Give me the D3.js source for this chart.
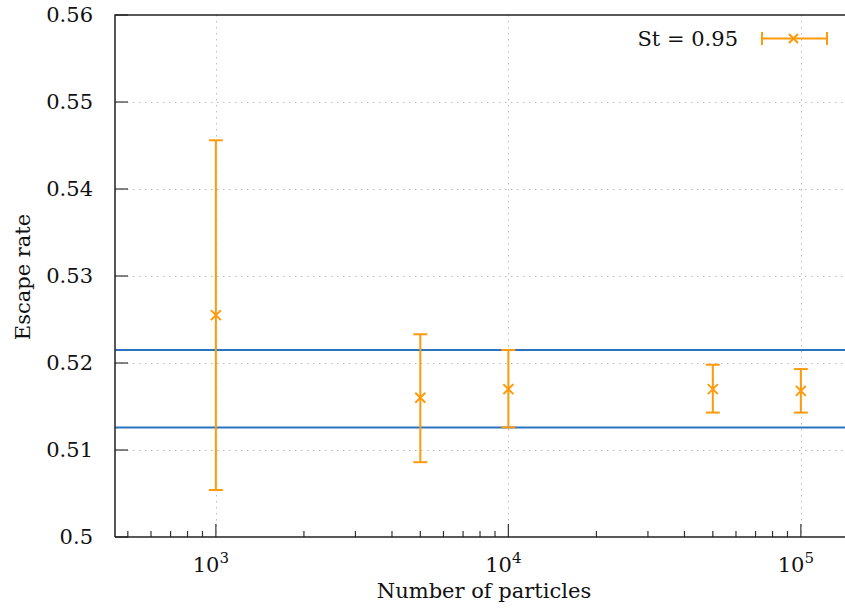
<!DOCTYPE html>
<html>
<head>
<meta charset="utf-8">
<script src="https://cdn.jsdelivr.net/npm/d3@7"></script>
<style>
  body { margin: 0; background: #fff; }
  svg { display: block; }
  text { font-family: "DejaVu Serif", "Liberation Serif", serif; fill: #111; }
</style>
</head>
<body>
<svg id="chart" width="845" height="612"></svg>
<script>
// data
var particles = [1000, 5000, 10000, 50000, 100000];
var escapeRate = [0.5255, 0.5160, 0.5170, 0.5170, 0.5168];
var errLow = [0.5054, 0.5086, 0.5126, 0.5143, 0.5143];
var errHigh = [0.5456, 0.5233, 0.5215, 0.5198, 0.5193];
var bandLines = [0.5215, 0.5126];
var yTicks = [0.5, 0.51, 0.52, 0.53, 0.54, 0.55, 0.56];
var xMajor = [1e3, 1e4, 1e5];
var legendLabel = "St = 0.95";

var orange = "#ff9a0c", blue = "#2a73bf";

var svg = d3.select("#chart");
var padL = 115, padT = 15, padB = 537;

// log x scale, right part runs past the window
var xDom = [452, 145000];
var decade = 292.5;
var x = d3.scaleLog()
  .domain(xDom)
  .range([padL, padL + decade * Math.log10(xDom[1] / xDom[0])]);
var y = d3.scaleLinear().domain([0.5, 0.56]).range([padB, padT]);
var padR = x.range()[1];

// grid
var grid = svg.append("g").attr("class", "grid")
  .attr("stroke", "#bdbdbd").attr("stroke-width", 1)
  .attr("stroke-dasharray", "1.5,4.5");
grid.selectAll("line.gy").data(yTicks.slice(1, -1)).enter().append("line")
  .attr("x1", padL).attr("x2", padR)
  .attr("y1", function(d){ return Math.round(y(d)) + 0.5; })
  .attr("y2", function(d){ return Math.round(y(d)) + 0.5; });
grid.selectAll("line.gx").data(xMajor).enter().append("line")
  .attr("x1", function(d){ return Math.round(x(d)) + 0.5; })
  .attr("x2", function(d){ return Math.round(x(d)) + 0.5; })
  .attr("y1", padT).attr("y2", padB);

// blue reference lines
svg.append("g").selectAll("line").data(bandLines).enter().append("line")
  .attr("x1", padL).attr("x2", padR)
  .attr("y1", function(d){ return y(d); })
  .attr("y2", function(d){ return y(d); })
  .attr("stroke", blue).attr("stroke-width", 2);

// minor x ticks 2..9 per decade
var minor = x.ticks().filter(function(d){
  var m = d / Math.pow(10, Math.floor(Math.log10(d) + 1e-9));
  return Math.abs(m - 1) > 1e-6 && d >= xDom[0] && d <= xDom[1];
});
svg.append("g").selectAll("line").data(minor).enter().append("line")
  .attr("x1", function(d){ return x(d); }).attr("x2", function(d){ return x(d); })
  .attr("y1", padB).attr("y2", padB - 6)
  .attr("stroke", "#333").attr("stroke-width", 1.2);
svg.append("g").selectAll("line").data(xMajor).enter().append("line")
  .attr("x1", function(d){ return x(d); }).attr("x2", function(d){ return x(d); })
  .attr("y1", padB).attr("y2", padB - 13)
  .attr("stroke", "#333").attr("stroke-width", 1.2);

// x tick labels 10^n
var xl = svg.append("g").selectAll("text").data(xMajor).enter().append("text")
  .attr("x", function(d){ return x(d) - 5; })
  .attr("y", 572)
  .attr("text-anchor", "middle")
  .style("font-size", "21px");
xl.append("tspan").text("10");
xl.append("tspan").attr("dy", -9).style("font-size", "15px")
  .text(function(d){ return Math.round(Math.log10(d)); });

// y axis
var yAxis = d3.axisLeft(y).tickValues(yTicks).tickSize(0).tickPadding(22)
  .tickFormat(function(d){ return d3.format("")(+d.toFixed(2)); });
var gy = svg.append("g").attr("transform", "translate(" + padL + ",0)").call(yAxis);
gy.select(".domain").remove();
gy.attr("font-family", null);
gy.selectAll("text").style("font-size", "21px");
svg.append("g").selectAll("line").data(yTicks).enter().append("line")
  .attr("x1", padL).attr("x2", padL + 13)
  .attr("y1", function(d){ return y(d); }).attr("y2", function(d){ return y(d); })
  .attr("stroke", "#333").attr("stroke-width", 1.2);

// frame
svg.append("path")
  .attr("d", "M" + padL + "," + padB + "V" + padT + "H" + padR)
  .attr("fill", "none").attr("stroke", "#222").attr("stroke-width", 1.5);
svg.append("line")
  .attr("x1", padL).attr("x2", padR).attr("y1", padB).attr("y2", padB)
  .attr("stroke", "#222").attr("stroke-width", 1.5);

// axis titles
svg.append("text").attr("x", 484).attr("y", 598).attr("text-anchor", "middle")
  .style("font-size", "21px").text("Number of particles");
svg.append("text").attr("transform", "translate(30,277) rotate(-90)")
  .attr("text-anchor", "middle").style("font-size", "21px").text("Escape rate");

// error bars
var pts = particles.map(function(p, i){
  return {x: p, y: escapeRate[i], lo: errLow[i], hi: errHigh[i]};
});
var eb = svg.append("g").attr("stroke", orange).attr("stroke-width", 2).attr("fill", "none");
var g = eb.selectAll("g").data(pts).enter().append("g");
g.append("line")
  .attr("x1", function(d){ return x(d.x); }).attr("x2", function(d){ return x(d.x); })
  .attr("y1", function(d){ return y(d.lo); }).attr("y2", function(d){ return y(d.hi); });
g.each(function(d){
  var s = d3.select(this), cx = x(d.x);
  [d.lo, d.hi].forEach(function(v){
    s.append("line").attr("x1", cx - 7).attr("x2", cx + 7)
      .attr("y1", y(v)).attr("y2", y(v));
  });
  var cy = y(d.y);
  s.append("path")
    .attr("d", "M" + (cx - 5) + "," + (cy - 5) + "L" + (cx + 5) + "," + (cy + 5) +
               "M" + (cx - 5) + "," + (cy + 5) + "L" + (cx + 5) + "," + (cy - 5));
});

// legend
var lg = svg.append("g").attr("class", "legend");
lg.append("text").attr("x", 738).attr("y", 46).attr("text-anchor", "end")
  .style("font-size", "21px").text(legendLabel);
var ls = lg.append("g").attr("stroke", orange).attr("stroke-width", 2);
ls.append("line").attr("x1", 762).attr("x2", 827).attr("y1", 38.5).attr("y2", 38.5);
ls.append("line").attr("x1", 762).attr("x2", 762).attr("y1", 32).attr("y2", 45);
ls.append("line").attr("x1", 827).attr("x2", 827).attr("y1", 32).attr("y2", 45);
ls.append("path").attr("d", "M789,34L798,43M789,43L798,34");
</script>
</body>
</html>
